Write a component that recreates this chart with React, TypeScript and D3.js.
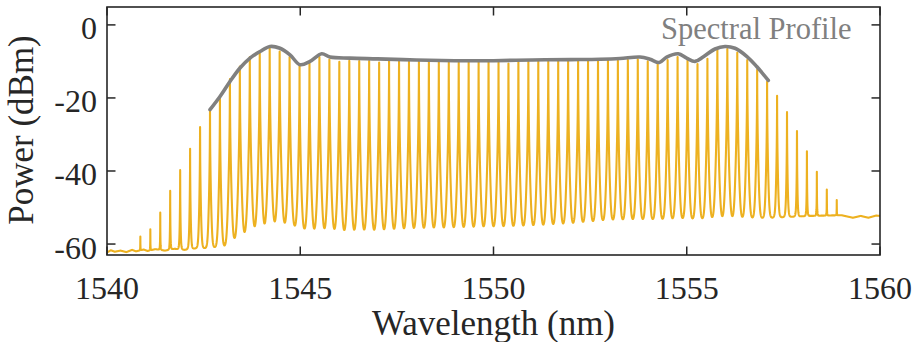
import React, { useMemo } from "react";
import * as d3 from "d3";

// comb line positions (nm) and their peak powers (dBm)
const combWavelengths = [
  1540.863, 1541.121, 1541.378, 1541.635, 1541.893, 1542.15, 1542.408,
  1542.665, 1542.922, 1543.18, 1543.437, 1543.695, 1543.952, 1544.209,
  1544.467, 1544.724, 1544.982, 1545.239, 1545.496, 1545.754, 1546.011,
  1546.269, 1546.526, 1546.783, 1547.041, 1547.298, 1547.556, 1547.813,
  1548.07, 1548.328, 1548.585, 1548.843, 1549.1, 1549.357, 1549.615,
  1549.872, 1550.13, 1550.387, 1550.644, 1550.902, 1551.159, 1551.417,
  1551.674, 1551.931, 1552.189, 1552.446, 1552.704, 1552.961, 1553.218,
  1553.476, 1553.733, 1553.991, 1554.248, 1554.505, 1554.763, 1555.02,
  1555.278, 1555.535, 1555.792, 1556.05, 1556.307, 1556.565, 1556.822,
  1557.079, 1557.337, 1557.594, 1557.852, 1558.109, 1558.366, 1558.624,
  1558.881,
];
const combPeaks = [
  -60.3, -57.3, -51.8, -45.5, -39.8, -33.9, -28.0,
  -23.2, -20.0, -14.8, -11.4, -8.8, -7.7, -6.4,
  -7.3, -8.8, -11.2, -10.6, -8.8, -9.5, -10.1,
  -9.8, -9.9, -9.9, -10.3, -9.9, -10.0, -10.0,
  -10.0, -10.1, -10.1, -10.3, -10.3, -10.1, -10.1,
  -10.0, -10.3, -10.6, -10.2, -10.0, -10.0, -10.0,
  -9.9, -9.9, -9.8, -9.8, -9.8, -9.7, -9.8,
  -9.6, -9.4, -10.0, -10.7, -9.6, -8.8, -9.7,
  -10.7, -9.3, -6.8, -6.6, -7.6, -9.6, -12.3,
  -15.5, -19.4, -23.9, -29.1, -34.7, -40.5, -46.0,
  -50.0,
];

// background (valley) level of the OSA trace
const floorWavelengths = [
  1540.0, 1540.1, 1540.2, 1540.35, 1540.5, 1540.65, 1540.75, 1540.95,
  1541.05, 1541.25, 1541.5, 1541.75, 1542.0, 1542.3, 1542.6, 1542.85, 1543.1,
  1543.3, 1543.57, 1543.83, 1544.09, 1544.3, 1544.56, 1544.82, 1545.08,
  1545.34, 1545.86, 1546.11, 1547.0, 1548.0, 1549.0, 1550.0, 1551.0, 1552.0,
  1553.0, 1554.0, 1555.0, 1556.0, 1557.0, 1557.6, 1558.2, 1559.0, 1559.3,
  1559.5, 1559.7, 1559.9, 1560.0,
];
const floorLevels = [
  -62.3, -61.7, -62.1, -61.8, -62.2, -61.6, -62.0, -61.5,
  -61.9, -61.4, -61.8, -61.3, -61.6, -61.2, -61.2, -61.0, -60.9,
  -59.3, -58.0, -56.6, -56.1, -55.3, -55.3, -55.7, -56.6,
  -57.0, -57.0, -57.4, -57.2, -56.6, -56.3, -56.0, -55.7, -55.0,
  -53.9, -53.7, -53.5, -53.4, -53.0, -52.6, -52.3, -52.1, -52.8,
  -52.3, -52.8, -52.2, -52.3,
];

// grey envelope
const profileWavelengths = [
  1542.665, 1542.924, 1543.182, 1543.441, 1543.7, 1543.959, 1544.217,
  1544.476, 1544.735, 1544.994, 1545.252, 1545.555, 1545.77, 1546.287,
  1547.0, 1548.0, 1549.0, 1550.0, 1551.0, 1552.0, 1552.755, 1553.273,
  1553.79, 1554.049, 1554.29, 1554.481, 1554.781, 1554.998, 1555.213,
  1555.42, 1555.731, 1555.99, 1556.248, 1556.551, 1556.81, 1557.11,
];
const profilePower = [
  -23.2, -19.6, -15.5, -11.8, -9.1, -7.3, -5.9,
  -6.4, -8.2, -10.9, -10.0, -7.9, -8.8, -9.1,
  -9.3, -9.6, -9.8, -9.8, -9.6, -9.5, -9.4, -9.2,
  -8.8, -9.4, -10.3, -8.8, -7.9, -9.1, -10.0,
  -8.8, -6.6, -5.9, -6.4, -8.6, -11.4, -15.2,
];

const xTicks = [1540, 1545, 1550, 1555, 1560];
const yTicks = [-60, -40, -20, 0];

const W = 920;
const H = 342;
const margin = { top: 7, right: 40, bottom: 87, left: 107 };
const axisColor = "#262626";
const serif = { fontFamily: "Liberation Serif" };

// dB drop of one comb line at a given detuning (nm)
const lineDrop = (dl: number) => 24 * Math.pow(Math.abs(dl) / 0.0259, 0.52);

export default function App() {
  const innerW = W - margin.left - margin.right;
  const innerH = H - margin.top - margin.bottom;

  const x = d3.scaleLinear().domain([1540, 1560]).range([0, innerW]);
  const y = d3.scaleLinear().domain([-63, 4.9]).range([innerH, 0]);

  const tracePath = useMemo(() => {
    const floor = d3.scaleLinear().domain(floorWavelengths).range(floorLevels);
    const samples = d3
      .range(1540, 1560.0001, 0.004)
      .concat(combWavelengths)
      .sort(d3.ascending);
    const pts: [number, number][] = samples.map((l) => {
      let lin = Math.pow(10, floor(l) / 10);
      combWavelengths.forEach((c, i) => {
        const d = lineDrop(l - c);
        if (d < 90) lin += Math.pow(10, (combPeaks[i] - d) / 10);
      });
      return [l, 10 * Math.log10(lin)];
    });
    return d3
      .line<[number, number]>()
      .x((d) => x(d[0]))
      .y((d) => y(d[1]))(pts);
  }, []);

  const profilePath = d3
    .line<number>()
    .x((d, i) => x(profileWavelengths[i]))
    .y((d) => y(d))
    .curve(d3.curveCatmullRom.alpha(0.5))(profilePower);

  const tickLen = 8.5;

  return (
    <svg
      width={W}
      height={H}
      style={{ position: "absolute", left: 0, top: 0, background: "#fff" }}
    >
      <defs>
        <clipPath id="plot-clip">
          <rect x={0} y={0} width={innerW} height={innerH} />
        </clipPath>
      </defs>
      <g transform={`translate(${margin.left},${margin.top})`}>
        <g clipPath="url(#plot-clip)">
          <path
            d={tracePath ?? ""}
            fill="none"
            stroke="#EDB120"
            strokeWidth={2.1}
            strokeLinejoin="round"
          />
          <path
            d={profilePath ?? ""}
            fill="none"
            stroke="#808080"
            strokeWidth={3.6}
            strokeLinecap="round"
          />
        </g>

        {/* ticks on all four sides, pointing inwards */}
        {xTicks.map((t) => (
          <g key={"x" + t}>
            <line x1={x(t)} x2={x(t)} y1={innerH} y2={innerH - tickLen} stroke={axisColor} strokeWidth={1.5} />
            <line x1={x(t)} x2={x(t)} y1={0} y2={tickLen} stroke={axisColor} strokeWidth={1.5} />
            <text
              x={x(t)}
              y={innerH + 44}
              textAnchor="middle"
              style={serif}
              fontSize={32}
              fill={axisColor}
            >
              {t}
            </text>
          </g>
        ))}
        {yTicks.map((t) => (
          <g key={"y" + t}>
            <line x1={0} x2={tickLen} y1={y(t)} y2={y(t)} stroke={axisColor} strokeWidth={1.5} />
            <line x1={innerW} x2={innerW - tickLen} y1={y(t)} y2={y(t)} stroke={axisColor} strokeWidth={1.5} />
            <text
              x={-10}
              y={y(t) + 14.5}
              textAnchor="end"
              style={serif}
              fontSize={32}
              fill={axisColor}
            >
              {t}
            </text>
          </g>
        ))}
        <rect
          x={0}
          y={0}
          width={innerW}
          height={innerH}
          fill="none"
          stroke={axisColor}
          strokeWidth={1.6}
        />

        <text x={554} y={32} style={serif} fontSize={30.5} fill="#808080">
          Spectral Profile
        </text>
      </g>

      <text
        x={margin.left + innerW / 2}
        y={335}
        textAnchor="middle"
        style={serif}
        fontSize={35}
        fill={axisColor}
      >
        Wavelength (nm)
      </text>
      <text
        transform={`translate(33,130) rotate(-90)`}
        textAnchor="middle"
        style={serif}
        fontSize={35}
        fill={axisColor}
      >
        Power (dBm)
      </text>
    </svg>
  );
}
